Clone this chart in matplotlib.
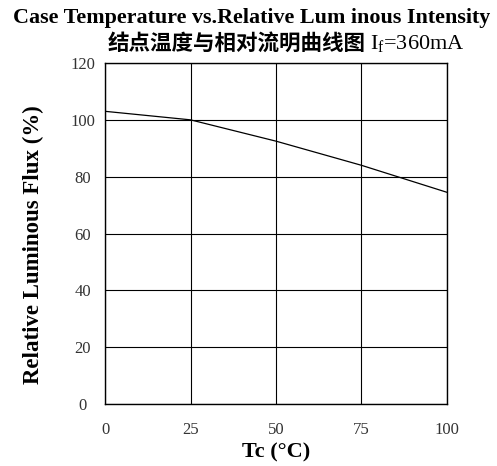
import numpy as np
import matplotlib
matplotlib.use("Agg")
import matplotlib.pyplot as plt

# values
tc = [0, 25, 50, 75, 100]
flux = [103.0, 100.0, 92.5, 84.0, 74.5]
xticks = [0, 25, 50, 75, 100]
yticks = [0, 20, 40, 60, 80, 100, 120]

title_en = "Case Temperature vs.Relative Lum inous Intensity"
title_cn = "结点温度与相对流明曲线图"
current = "I$_{\\mathregular{f}}$=360mA"

plt.rcParams['font.family'] = ['Liberation Serif', 'DejaVu Sans']
plt.rcParams['mathtext.fontset'] = 'custom'
plt.rcParams['mathtext.rm'] = 'Liberation Serif'

fig = plt.figure(figsize=(4.97, 4.66), dpi=100)
ax = fig.add_axes([0.2113, 0.133, 0.688, 0.7318])

ax.plot(tc, flux, color='black', lw=0.9)

ax.set_xlim(0, 100)
ax.set_ylim(0, 120)
ax.set_xticks(xticks)
ax.set_yticks(yticks)
ax.grid(True, color='black', lw=0.8)
ax.set_axisbelow(True)
for s in ax.spines.values():
    s.set_color('black')
    s.set_linewidth(1.0)

ax.tick_params(axis='both', length=0, labelsize=12, colors='#333333')
ax.tick_params(axis='x', pad=13)
ax.tick_params(axis='y', pad=16)
for lab in ax.get_yticklabels():
    lab.set_horizontalalignment('center')

ax.set_xlabel("Tc (°C)", fontsize=16, fontweight='bold', labelpad=3)
ax.set_ylabel("Relative Luminous Flux (%)", fontsize=16.5, fontweight='bold')
ax.yaxis.set_label_coords(-0.178, 0.466)

fig.text(0.507, 0.961, title_en, ha='center', va='center', fontsize=15.8, fontweight='bold')
fig.text(0.476, 0.908, title_cn, ha='center', va='center', fontsize=15.5,
         fontweight='bold', family=['Noto Sans CJK SC', 'DejaVu Sans'])
fig.text(0.745, 0.893, current, ha='left', va='baseline', fontsize=16)

fig.savefig("out.png", dpi=100)
